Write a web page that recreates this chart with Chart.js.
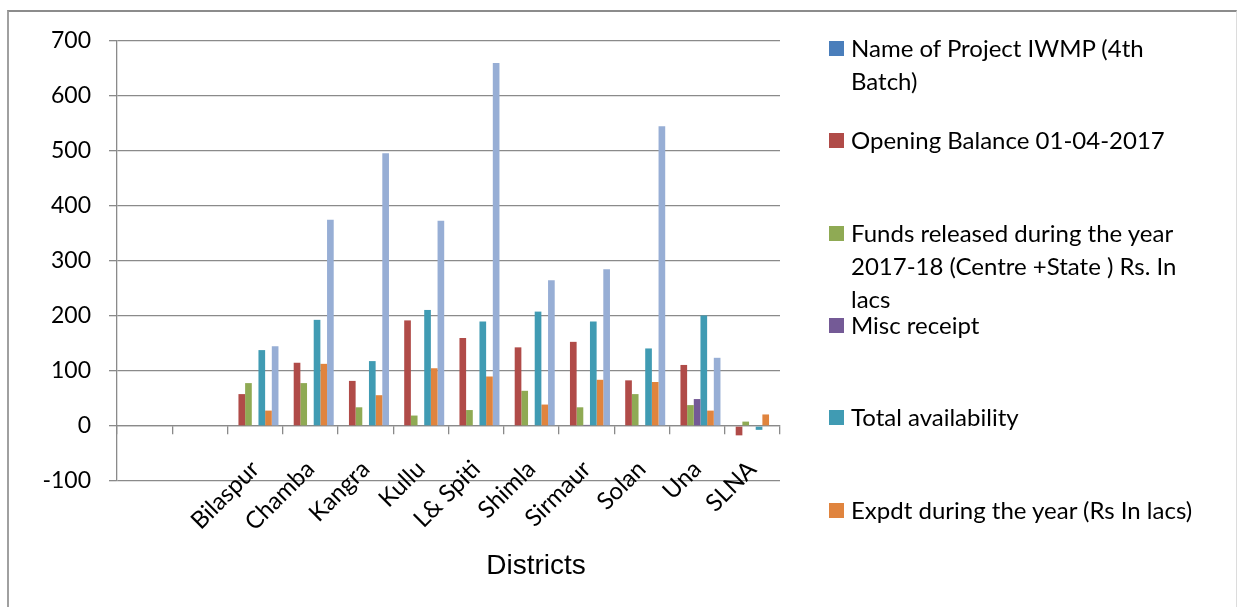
<!DOCTYPE html>
<html>
<head>
<meta charset="utf-8">
<title>Districts</title>
<script src="https://cdn.jsdelivr.net/npm/chart.js@4.4.1/dist/chart.umd.min.js"></script>
<style>
  body { margin: 0; background: #fff; }
  #wrap { position: relative; width: 1237px; height: 607px; overflow: hidden; background: #fff; }
  #frame { position: absolute; left: 7px; top: 10px; width: 1227px; height: 640px; border-left: 2px solid #a0a0a0; border-top: 2px solid #8c8c8c; border-right: 1px solid #dcdcdc; }
  #chart { position: absolute; left: 0; top: 0; }
  .legend-item { position: absolute; left: 829px; font-family: Lato, sans-serif; font-size: 24px; line-height: 33px; color: #000; white-space: pre-line; }
  .legend-box { position: absolute; left: 0; width: 15px; height: 15px; }
  .legend-text { position: absolute; left: 22px; top: 0; width: 400px; }
  #xtitle { position: absolute; left: 436px; top: 551px; width: 200px; text-align: center; font-family: "Liberation Sans", Arial, sans-serif; font-size: 28px; line-height: 28px; color: #000; }
</style>
</head>
<body>
<div id="wrap">
  <div id="frame"></div>
  <canvas id="chart" width="1237" height="607"></canvas>
  <div id="legend"></div>
  <div id="xtitle">Districts</div>
</div>
<script>
// categories (first two slots are empty in the original sheet)
var districts = ["", "", "Bilaspur", "Chamba", "Kangra", "Kullu", "L& Spiti", "Shimla", "Sirmaur", "Solan", "Una", "SLNA"];

// series values, Rs. in lacs
var projectName = [null, null, null, null, null, null, null, null, null, null, null, null];
var openingBalance = [null, null, 58, 115, 82, 192, 160, 143, 153, 83, 111, -17];
var fundsReleased = [null, null, 78, 78, 34, 19, 29, 64, 34, 58, 38, 8];
var miscReceipt = [null, null, null, null, null, null, null, null, 2, null, 49, null];
var totalAvailability = [null, null, 138, 193, 118, 211, 190, 208, 190, 141, 201, -7];
var expenditure = [null, null, 28, 113, 56, 105, 90, 39, 84, 80, 28, 21];
var seventhSeries = [null, null, 145, 375, 496, 373, 660, 265, 285, 545, 124, null]; // its legend entry is cut off

// legend names, broken the way the original legend wraps
var seriesNames = [
    "Name of Project IWMP (4th\nBatch)",
    "Opening Balance 01-04-2017",
    "Funds released during the year\n2017-18 (Centre +State ) Rs. In\nlacs",
    "Misc receipt",
    "Total availability",
    "Expdt during the year (Rs In lacs)",
    ""
];
var seriesColors = ['#4A7EBB', '#B04B48', '#8FAA54', '#745A96', '#409BB3', '#E0843E', '#97AED5'];
var seriesData = [projectName, openingBalance, fundsReleased, miscReceipt, totalAvailability, expenditure, seventhSeries];

var datasets = [];
for (var i = 0; i < seriesData.length; i++) {
    datasets.push({
        label: seriesNames[i].replace(/\n/g, ' '),
        data: seriesData[i],
        backgroundColor: seriesColors[i],
        borderWidth: 0
    });
}

var axisGray = '#8a8a8a';

var ctx = document.getElementById('chart').getContext('2d');
var myChart = new Chart(ctx, {
    type: 'bar',
    data: { labels: districts, datasets: datasets },
    options: {
        responsive: false,
        animation: false,
        layout: { padding: { left: 0, top: 41, right: 457, bottom: 126 } },
        datasets: { bar: { categoryPercentage: 0.845, barPercentage: 1 } },
        plugins: { legend: { display: false }, tooltip: { enabled: false } },
        scales: {
            x: {
                position: { y: 0 }, // category axis crosses at zero like the original
                grid: { drawOnChartArea: false, color: axisGray, lineWidth: 1.3, tickLength: 8, offset: true },
                border: { color: axisGray, width: 1.3 },
                ticks: { autoSkip: false, minRotation: 45, maxRotation: 45, padding: 21, color: '#000', font: { family: 'Lato', size: 24 } }
            },
            y: {
                min: -100,
                max: 700,
                ticks: { stepSize: 100, padding: 18, color: '#000', font: { family: 'Lato', size: 23 } },
                grid: { color: axisGray, lineWidth: 1.3, tickLength: 8 },
                border: { color: axisGray, width: 1.3 },
                afterFit: function (scale) { scale.width = 117; }
            }
        }
    }
});

// html legend on the right
var legendEl = document.getElementById('legend');
var legendTop = 31;    // top of first entry
var legendStep = 92.3; // distance between entries
for (var j = 0; j < seriesNames.length; j++) {
    if (seriesNames[j] === "") continue;
    var item = document.createElement('div');
    item.className = 'legend-item';
    item.style.top = (legendTop + j * legendStep) + 'px';
    var box = document.createElement('div');
    box.className = 'legend-box';
    box.style.top = '10px';
    box.style.background = seriesColors[j];
    var txt = document.createElement('div');
    txt.className = 'legend-text';
    txt.textContent = seriesNames[j];
    item.appendChild(box);
    item.appendChild(txt);
    legendEl.appendChild(item);
}
</script>
</body>
</html>
